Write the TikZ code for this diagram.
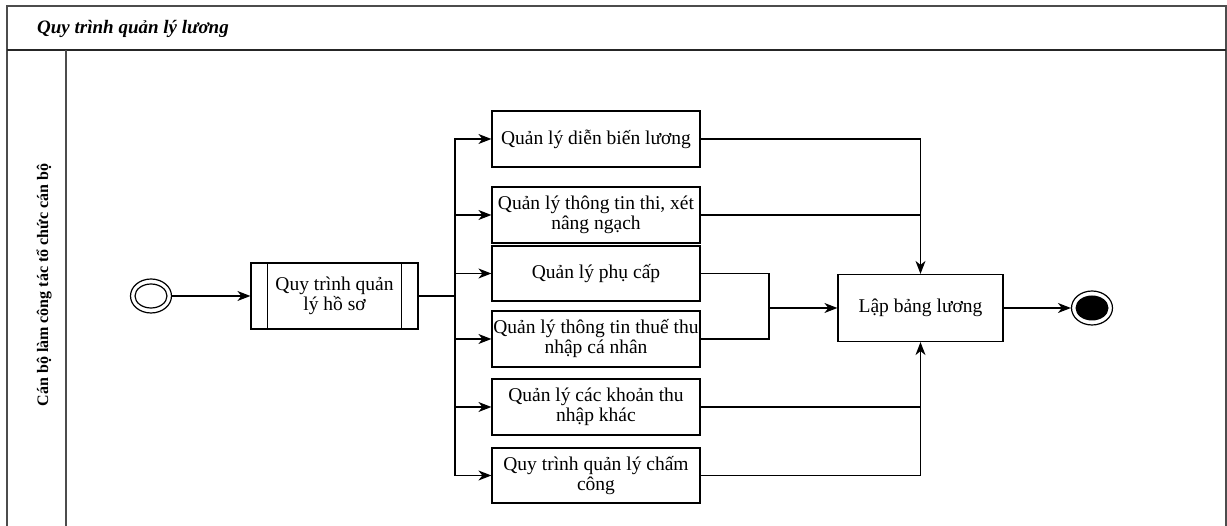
\documentclass[tikz,border=0pt]{standalone}
\usepackage{fontspec}
\setmainfont{Liberation Serif}
\usetikzlibrary{arrows.meta,calc,shapes.geometric}
\begin{document}
\begin{tikzpicture}[x=1pt,y=-1pt,
  txt/.style={font=\fontsize{19.5}{20}\selectfont},
  box/.style={draw,line width=1.2pt,minimum width=208pt,minimum height=56pt,
    align=center,inner sep=0.5pt,txt},
  arr/.style={-{Stealth[length=13pt,width=10pt,inset=4pt]},line width=1.2pt},
  ln/.style={line width=1.2pt},
  frame/.style={line width=1.3pt,draw=black!70}]
\useasboundingbox (0,0) rectangle (1227,526);

% pool frame, header and lane
\draw[frame] (7,530) -- (7,6) -- (1226,6) -- (1226,530);
\draw[line width=1.8pt,draw=black!85] (7,50) -- (1226,50);
\draw[frame] (66,50) -- (66,530);
\node[anchor=west,inner sep=0pt,font=\fontsize{19}{20}\selectfont\bfseries\itshape] (title) at (37,29) {Quy trình quản lý lương};
\node[rotate=90,inner sep=0pt,font=\fontsize{16}{18}\selectfont\bfseries] (lane) at (44,285) {Cán bộ làm công tác tổ chức cán bộ};

% start and sub-process
\node[draw,ellipse,minimum width=41pt,minimum height=34pt,line width=1.2pt,inner sep=0pt] (start) at (151,296) {};
\draw[line width=1.2pt] (start.center) ellipse [x radius=16pt,y radius=12pt];
\node[draw,line width=1.2pt,minimum width=167pt,minimum height=66pt,align=center,txt] (sp) at (334.5,296) {Quy trình quản\\lý hồ sơ};
\draw[line width=1.2pt] ($(sp.north west)+(17,0)$) -- ($(sp.south west)+(17,0)$);
\draw[line width=1.2pt] ($(sp.north east)+(-17,0)$) -- ($(sp.south east)+(-17,0)$);

% activities
\node[box] (b1) at (596,139) {Quản lý diễn biến lương};
\node[box] (b2) at (596,215) {Quản lý thông tin thi, xét\\nâng ngạch};
\node[box,minimum height=55pt] (b3) at (596,273.5) {Quản lý phụ cấp};
\node[box] (b4) at (596,339) {Quản lý thông tin thuế thu\\nhập cá nhân};
\node[box] (b5) at (596,407) {Quản lý các khoản thu\\nhập khác};
\node[box,minimum height=55pt] (b6) at (596,475.5) {Quy trình quản lý chấm\\công};
\node[draw,line width=1.2pt,minimum width=165pt,minimum height=67pt,txt] (lap) at (920.5,308) {Lập bảng lương};

% end
\node[draw,ellipse,minimum width=41pt,minimum height=34pt,line width=1.2pt,inner sep=0pt] (end) at (1092,308) {};
\fill (end.center) ellipse [x radius=16.5pt,y radius=12.5pt];

% flows
\coordinate (fork) at (455,296);
\coordinate (join) at (769,308);
\draw[arr] (start) -- (sp);
\draw[ln] (sp.east) -- (fork);
\foreach \b in {b1,b2,b3,b4,b5,b6} \draw[arr] (fork) |- (\b.west);
\draw[ln] (b3.east) -| (join);
\draw[ln] (b4.east) -| (join);
\draw[arr] (join) -- (lap.west);
\draw[arr] (b1.east) -| (lap.north);
\draw[ln] (b2.east) -- (b2.east -| lap.north);
\draw[arr] (b6.east) -| (lap.south);
\draw[ln] (b5.east) -- (b5.east -| lap.south);
\draw[arr] (lap.east) -- (end.west);
\end{tikzpicture}
\end{document}
